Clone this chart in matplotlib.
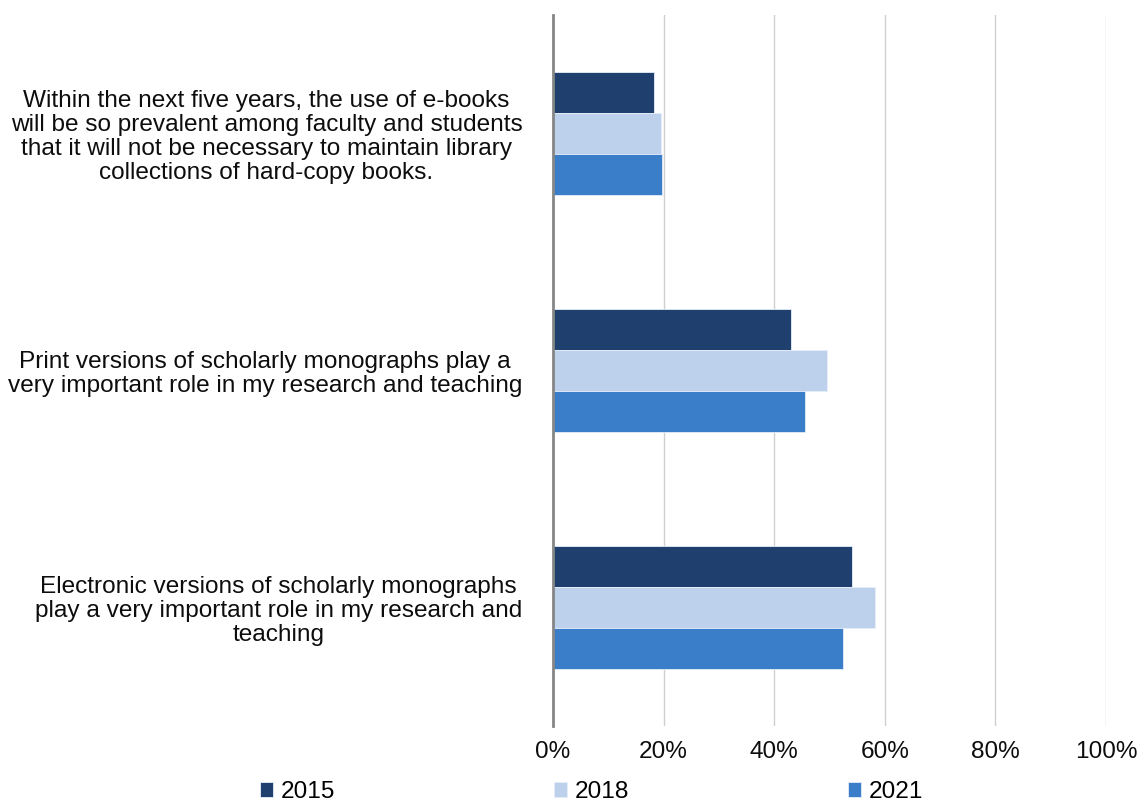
import matplotlib.pyplot as plt
import numpy as np


plt.rcParams["font.family"] = ["Liberation Sans", "DejaVu Sans"]

categories = [
    "Within the next five years, the use of e-books\n"
    "will be so prevalent among faculty and students\n"
    "that it will not be necessary to maintain library\n"
    "collections of hard-copy books.",
    "Print versions of scholarly monographs play a\n"
    "very important role in my research and teaching",
    "Electronic versions of scholarly monographs\n"
    "play a very important role in my research and\n"
    "teaching",
]

years = ["2015", "2018", "2021"]
values_2015 = [18.2, 43.1, 54.1]
values_2018 = [19.6, 49.5, 58.2]
values_2021 = [19.8, 45.5, 52.4]
colors = ["#1F3F6E", "#BDD1EC", "#3A7DC9"]

x_ticks = [0, 20, 40, 60, 80, 100]
x_tick_labels = ["0%", "20%", "40%", "60%", "80%", "100%"]

FONT_SIZE = 17.6

fig = plt.figure(figsize=(11.42, 8.02), dpi=100)
ax = fig.add_axes([0.4842, 0.0948, 0.4843, 0.8865])

y = np.arange(len(categories))
bar_height = 0.172
series = [values_2015, values_2018, values_2021]

for i, (year, values, color) in enumerate(zip(years, series, colors)):
    ax.barh(
        y + (i - 1) * bar_height,
        values,
        height=bar_height,
        color=color,
        edgecolor="#E6EEF8",
        linewidth=0.6,
        label=year,
        zorder=3
    )

ax.set_xlim(0, 100)
ax.set_ylim(len(categories) - 0.5, -0.5)

ax.set_xticks(x_ticks)
ax.set_xticklabels(x_tick_labels, fontsize=FONT_SIZE)
ax.set_yticks(y)
ax.set_yticklabels(
    categories,
    fontsize=FONT_SIZE,
    ha="right",
    multialignment="center",
    linespacing=1.12
)

ax.tick_params(axis="x", length=0, pad=11, colors="#0d0d0d")
ax.tick_params(axis="y", length=0, pad=22, colors="#0d0d0d")

ax.grid(axis="x", color="#D0D0D0", linewidth=1.0, zorder=0)
ax.set_axisbelow(True)

for side in ["top", "right", "bottom"]:
    ax.spines[side].set_visible(False)
ax.spines["left"].set_color("#868686")
ax.spines["left"].set_linewidth(2)
ax.spines["left"].set_zorder(4)

fig.legend(
    loc="center",
    bbox_to_anchor=(0.518, 0.012),
    ncol=3,
    frameon=False,
    fontsize=FONT_SIZE,
    handlelength=0.55,
    handleheight=0.55,
    handletextpad=0.3,
    columnspacing=8.95
)

fig.savefig("out.png", dpi=100)
